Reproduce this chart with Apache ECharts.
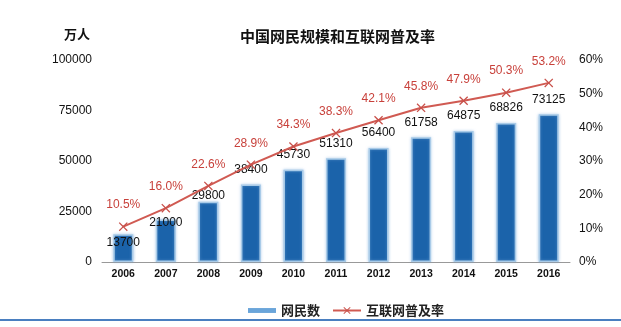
<!DOCTYPE html>
<html><head><meta charset="utf-8">
<script src="https://cdn.jsdelivr.net/npm/echarts@6/dist/echarts.min.js"></script>
<style>html,body{margin:0;padding:0;background:#fff}#c{width:621px;height:327px}</style>
</head><body><div id="c"></div>
<script>
var years = ['2006','2007','2008','2009','2010','2011','2012','2013','2014','2015','2016'];
var users = [13700,21000,29800,38400,45730,51310,56400,61758,64875,68826,73125];
var rate = [10.5,16.0,22.6,28.9,34.3,38.3,42.1,45.8,47.9,50.3,53.2];
var leftTicks = [0,25000,50000,75000,100000];
var rightTicks = [0,10,20,30,40,50,60];
var chart = echarts.init(document.getElementById('c'));
var font = 'Liberation Sans, Arial, sans-serif';
// labels of the first bars are pushed down in the original to avoid the line
var labelShift = [23, 18, 9];
var barData = users.map(function(v,i){
  var d = {value:v};
  if (labelShift[i]) d.label = {offset:[0, labelShift[i]]};
  return d;
});
chart.setOption({
  animation:false,
  title:{text:'中国网民规模和互联网普及率', left:235, top:24, textStyle:{fontFamily:'Noto Sans CJK SC', fontSize:15, fontWeight:'bold', color:'#111'}},
  graphic:[
    {type:'text', left:64, top:28, style:{text:'万人', font:'bold 13px "Noto Sans CJK SC"', fill:'#111'}},
    {type:'rect', shape:{x:0,y:319,width:621,height:2}, style:{fill:'#4a7fc0'}}
  ],
  legend:{bottom:5, left:243, itemGap:12, textStyle:{fontFamily:'Noto Sans CJK SC', fontSize:13, fontWeight:'bold', color:'#222'},
    data:[{name:'网民数', icon:'path://M0,0H40V7H0Z', itemStyle:{color:'#6aa5da', borderWidth:0, shadowBlur:0}},{name:'互联网普及率'}], itemWidth:28, itemHeight:9},
  grid:{left:102, right:51, top:60, bottom:65},
  xAxis:{type:'category', data:years, axisLine:{lineStyle:{color:'#999'}}, axisTick:{lineStyle:{color:'#999'}, length:5},
    axisLabel:{fontFamily:font, fontSize:10.5, fontWeight:'bold', color:'#111', margin:7}},
  yAxis:[
    {type:'value', min:leftTicks[0], max:leftTicks[leftTicks.length-1], interval:leftTicks[1]-leftTicks[0], splitLine:{show:false}, axisLine:{show:false}, axisTick:{show:false},
      axisLabel:{fontFamily:font, fontSize:12, color:'#111', margin:10, formatter:function(v){return String(v);}}},
    {type:'value', min:rightTicks[0], max:rightTicks[rightTicks.length-1], interval:rightTicks[1]-rightTicks[0], splitLine:{show:false}, axisLine:{show:false}, axisTick:{show:false},
      axisLabel:{fontFamily:font, fontSize:12, color:'#111', formatter:'{value}%', margin:9}}
  ],
  series:[
    {name:'网民数', type:'bar', data:barData, barWidth:20, itemStyle:{color:'#1b63aa', borderColor:'#a9cbe8', borderWidth:1.5, shadowColor:'rgba(120,170,220,0.6)', shadowBlur:3},
      label:{show:true, position:'top', fontFamily:font, fontSize:12, color:'#111', distance:9}},
    {name:'互联网普及率', type:'line', yAxisIndex:1, data:rate, color:'#c8504a', lineStyle:{color:'#d05a52', width:2},
      symbol:'path://M0,1L1,0L5,4L9,0L10,1L6,5L10,9L9,10L5,6L1,10L0,9L4,5Z', symbolSize:9, itemStyle:{color:'#c8504a'},
      label:{show:true, position:'top', distance:11, fontFamily:font, fontSize:12, color:'#c8413b', formatter:function(p){return p.value.toFixed(1)+'%';}}}
  ]
});
</script></body></html>
